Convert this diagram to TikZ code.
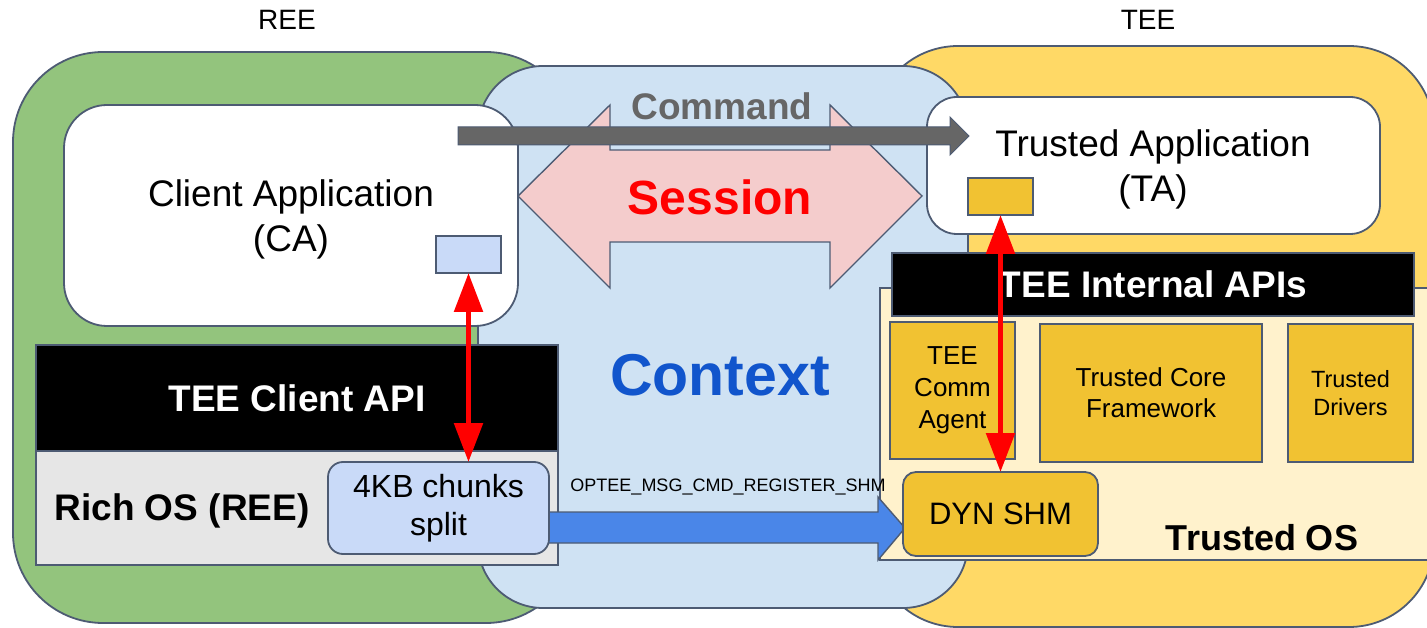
\documentclass[tikz,border=0pt]{standalone}
\usepackage{fontspec}
\setmainfont{Liberation Sans}
\usetikzlibrary{arrows.meta}
\definecolor{reegreen}{HTML}{93C47D}
\definecolor{teeyellow}{HTML}{FFD966}
\definecolor{ctxblue}{HTML}{CFE2F3}
\definecolor{edgec}{HTML}{4D5B73}
\definecolor{sessfill}{HTML}{F4CCCC}
\definecolor{cmdgray}{HTML}{666666}
\definecolor{richgray}{HTML}{E6E6E6}
\definecolor{tosfill}{HTML}{FFF2CC}
\definecolor{goldc}{HTML}{F1C232}
\definecolor{lightblue}{HTML}{C9DAF8}
\definecolor{shmblue}{HTML}{4A86E8}
\definecolor{ctxtext}{HTML}{1155CC}
\definecolor{sessred}{HTML}{FF0000}
\newcommand\myfs[2]{\fontsize{#1}{#2}\selectfont}
\tikzset{
  region/.style={draw=edgec, line width=1.8pt},
  box/.style={draw=edgec, line width=1.8pt, inner sep=0pt, outer sep=0pt, align=center},
  lbl/.style={inner sep=0pt, outer sep=0pt, align=center},
  blockarrow/.style={draw=edgec, line width=1.4pt, line join=miter},
  redarrow/.style={draw=sessred, line width=5.5pt, {Triangle[length=39pt,width=28pt]}-{Triangle[length=39pt,width=28pt]}},
}
\begin{document}
\begin{tikzpicture}[x=1pt,y=-1pt]
\useasboundingbox (0,0) rectangle (1427,628);
% regions
\node[region, fill=reegreen, rounded corners=90pt, minimum width=563pt, minimum height=571pt] (ree) at (294.5,337.5) {};
\node[region, fill=teeyellow, rounded corners=85pt, minimum width=561pt, minimum height=581pt] (tee) at (1153.5,336.5) {};
\node[region, fill=ctxblue, rounded corners=65pt, minimum width=490pt, minimum height=542pt] (ctx) at (723,337) {};
\node[lbl, font=\myfs{28}{34}] (reelbl) at (287,20) {REE};
\node[lbl, font=\myfs{28}{34}] (teelbl) at (1148,20) {TEE};
% session arrow
\draw[blockarrow, fill=sessfill] (518,196) -- (610,105) -- (610,150) -- (830,150) -- (830,105) -- (922,196) -- (830,288) -- (830,242) -- (610,242) -- (610,288) -- cycle;
\node[lbl, font=\myfs{48}{56}\bfseries, text=sessred] (session) at (720,197) {Session};
\node[lbl, font=\myfs{37}{44}\bfseries, text=cmdgray] (cmdlbl) at (722,106) {Command};
\node[lbl, font=\myfs{59}{70}\bfseries, text=ctxtext] (context) at (720,375) {Context};
% CA
\node[box, fill=white, rounded corners=43pt, minimum width=454pt, minimum height=221pt] (ca) at (291,215.5) {};
\node[lbl, font=\myfs{37}{45}] (catext) at (291,219) {Client Application\\(CA)};
\node[box, fill=lightblue, minimum width=65pt, minimum height=37pt] (cabuf) at (468.5,254.5) {};
% TA
\node[box, fill=white, rounded corners=30pt, minimum width=453pt, minimum height=137pt] (ta) at (1153.5,165.5) {};
\node[lbl, font=\myfs{37}{45}] (tatext) at (1153,169) {Trusted Application\\(TA)};
\node[box, fill=goldc, minimum width=65pt, minimum height=37pt] (tabuf) at (1000.5,196.5) {};
% command arrow
\draw[blockarrow, fill=cmdgray, line width=1pt] (458,127) -- (950,127) -- (950,117) -- (969,136) -- (950,155) -- (950,145) -- (458,145) -- cycle;
% REE stack
\node[box, fill=black, minimum width=522pt, minimum height=106pt, font=\myfs{37}{44}\bfseries, text=white] (clientapi) at (297,398) {TEE Client API};
\node[box, fill=richgray, minimum width=522pt, minimum height=114pt] (richos) at (297,508) {};
\node[lbl, font=\myfs{37}{44}\bfseries] (richtext) at (182,511) {Rich OS (REE)};
% Trusted OS
\node[box, fill=tosfill, minimum width=556pt, minimum height=272pt] (tos) at (1158,424) {};
\node[lbl, font=\myfs{36}{44}\bfseries] (tostext) at (1262,538) {Trusted OS};
\node[box, fill=black, minimum width=522pt, minimum height=63pt, font=\myfs{37}{44}\bfseries, text=white] (internal) at (1153,284.5) {TEE Internal APIs};
\node[box, fill=goldc, minimum width=125pt, minimum height=137pt, font=\myfs{26}{32}] (comm) at (952.5,390.5) {TEE\\Comm\\Agent};
\node[box, fill=goldc, minimum width=222pt, minimum height=138pt, font=\myfs{26}{31}] (core) at (1151,393) {Trusted Core\\Framework};
\node[box, fill=goldc, minimum width=125pt, minimum height=138pt, font=\myfs{23.5}{28}] (drivers) at (1350.5,393) {Trusted\\Drivers};
% shm arrow
\draw[blockarrow, fill=shmblue] (540,512) -- (878,512) -- (878,497) -- (905,528) -- (878,560) -- (878,543) -- (540,543) -- cycle;
\node[lbl, font=\myfs{18}{22}] (optee) at (728,487) {OPTEE\_MSG\_CMD\_REGISTER\_SHM};
\node[box, fill=lightblue, rounded corners=15pt, minimum width=221pt, minimum height=92pt, font=\myfs{32}{38}] (chunk) at (438.5,508) {4KB chunks\\split};
\node[box, fill=goldc, rounded corners=13pt, minimum width=195pt, minimum height=84pt, font=\myfs{31}{37}] (dyn) at (1000.5,514) {DYN SHM};
% red arrows
\draw[redarrow] (cabuf.south) -- (cabuf.south |- chunk.north);
\draw[redarrow] (tabuf.south) -- (tabuf.south |- dyn.north);
\end{tikzpicture}
\end{document}
